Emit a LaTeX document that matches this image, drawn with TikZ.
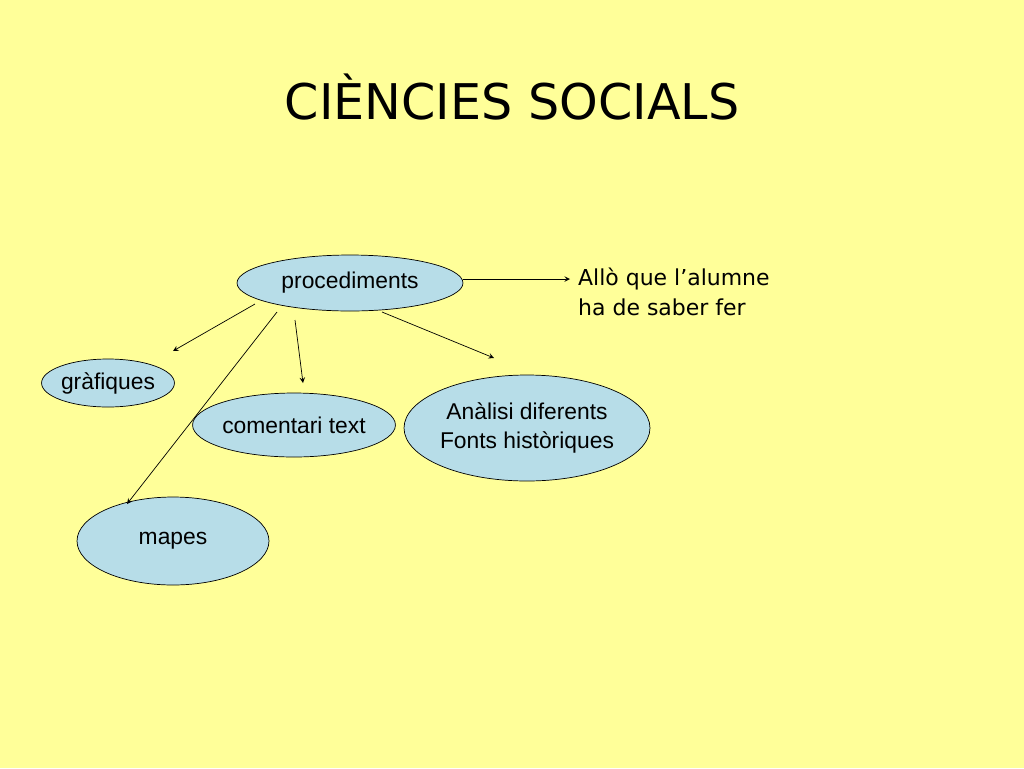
\documentclass[tikz,border=0pt]{standalone}
\usepackage{fontspec}
\setmainfont{Liberation Sans}
\newfontfamily\verdanafont{DejaVu Sans}
\usetikzlibrary{positioning,shapes.geometric,arrows}
\definecolor{bluebg}{RGB}{183,221,232}
\definecolor{yellowbg}{RGB}{255,255,153}
\tikzset{
  bubble/.style = {ellipse, draw=black, fill=bluebg, inner sep=0pt,
    align=center, font=\fontsize{13}{17}\selectfont},
  link/.style = {->, >=stealth, thin}
}
\begin{document}
\begin{tikzpicture}[x=0.02cm, y=-0.02cm]
  \fill [yellowbg] (0,0) rectangle (1024,768);
  \useasboundingbox (0,0) rectangle (1024,768);
  \node (title) at (512,97) {\verdanafont\fontsize{28}{32}\selectfont CIÈNCIES SOCIALS};
  \node [bubble, minimum width=4.52cm, minimum height=1.12cm] (proc) at (350,283) {procediments};
  \node [bubble, minimum width=2.56cm, minimum height=0.96cm] (graf) at (108,383) {gràfiques};
  \node [bubble, minimum width=3.52cm, minimum height=1.28cm] (coment) at (294,425) {comentari text};
  \node [bubble, minimum width=4.88cm, minimum height=2.12cm] (anal) at (527,428) {Anàlisi diferents\\Fonts històriques};
  \node [bubble, minimum width=3.84cm, minimum height=1.76cm] (mapes) at (173,541) {mapes};
  \node [anchor=west, align=left, font=\verdanafont\fontsize{12.5}{17}\selectfont] (alumne) at (572,292) {Allò que l’alumne\\ha de saber fer};
  % arrows
  \coordinate (p1) at (463,279);  \coordinate (t1) at (570,279);
  \coordinate (p2) at (255,304);  \coordinate (t2) at (173,351);
  \coordinate (p3) at (295,320);  \coordinate (t3) at (303,383);
  \coordinate (p4) at (382,312);  \coordinate (t4) at (494,358);
  \coordinate (p5) at (277,312);  \coordinate (t5) at (127,504);
  \draw [link] (p1) -- (t1);
  \draw [link] (p2) -- (t2);
  \draw [link] (p3) -- (t3);
  \draw [link] (p4) -- (t4);
  \draw [link] (p5) -- (t5);
\end{tikzpicture}
\end{document}
